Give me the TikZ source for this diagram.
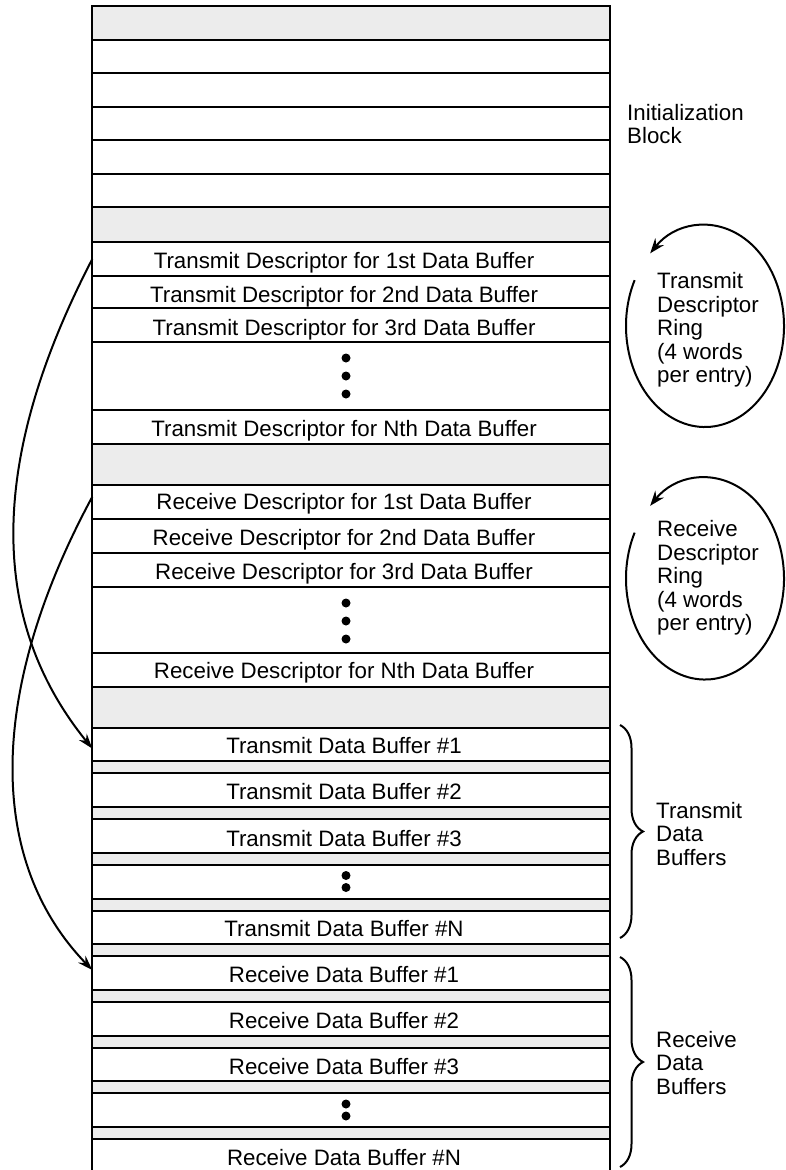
\documentclass[tikz,border=0pt]{standalone}
\usepackage{fontspec}
\setmainfont{Liberation Sans}
\usetikzlibrary{arrows.meta,decorations.pathreplacing}
\definecolor{cellgray}{RGB}{236,236,236}
\begin{document}
\begin{tikzpicture}[x=1pt,y=1pt,
  cell/.style={draw=black,line width=2pt,fill=white,minimum width=517.4pt,
    minimum height=#1,inner sep=0pt,outer sep=0pt,anchor=north west},
  gcell/.style={cell=#1,fill=cellgray},
  lbl/.style={font=\fontsize{22.3}{23.5}\selectfont,inner sep=0pt,anchor=base},
  side/.style={font=\fontsize{22.3}{23.5}\selectfont,inner sep=0pt,align=left,anchor=west},
  conn/.style={line width=2pt,-{Stealth[length=15pt,width=10pt,inset=5pt]}},
  ring/.style={line width=2pt,-{Stealth[length=15pt,width=11pt,inset=5pt]}},
  brc/.style={line width=2pt,decorate,decoration={brace,amplitude=23pt}},
  dot/.style={fill=black}]
\path[use as bounding box] (0,0) rectangle (785,-1170);
\fill[white] (0,0) rectangle (785,-1170);
\clip (0,0) rectangle (785,-1170);

% initialization block
\node[gcell=33.6pt] (i0) at (92.3,-6) {};
\node[cell=33.6pt] (i1) at (92.3,-39.6) {};
\node[cell=33.6pt] (i2) at (92.3,-73.1) {};
\node[cell=33.6pt] (i3) at (92.3,-106.7) {};
\node[cell=33.6pt] (i4) at (92.3,-140.2) {};
\node[cell=33.6pt] (i5) at (92.3,-173.8) {};
\node[gcell=34.7pt] (i6) at (92.3,-207.3) {};

% transmit descriptors
\node[cell=34pt] (td1) at (92.3,-242) {};
\node[cell=32.3pt] (td2) at (92.3,-276) {};
\node[cell=33.4pt] (td3) at (92.3,-308.3) {};
\node[cell=68.3pt] (tdd) at (92.3,-341.7) {};
\node[cell=33.5pt] (tdn) at (92.3,-410) {};
\node[gcell=41.5pt] (g2) at (92.3,-443.5) {};

% receive descriptors
\node[cell=33.5pt] (rd1) at (92.3,-485) {};
\node[cell=34.5pt] (rd2) at (92.3,-518.5) {};
\node[cell=34pt] (rd3) at (92.3,-553) {};
\node[cell=66pt] (rdd) at (92.3,-587) {};
\node[cell=34pt] (rdn) at (92.3,-653) {};
\node[gcell=40.7pt] (g3) at (92.3,-687) {};

% transmit buffers
\node[cell=33.7pt] (tb1) at (92.3,-727.7) {};
\node[gcell=12pt] (tg1) at (92.3,-761.4) {};
\node[cell=33.7pt] (tb2) at (92.3,-773.4) {};
\node[gcell=12pt] (tg2) at (92.3,-807.1) {};
\node[cell=33.7pt] (tb3) at (92.3,-819.1) {};
\node[gcell=12pt] (tg3) at (92.3,-852.8) {};
\node[cell=33.7pt] (tbd) at (92.3,-864.8) {};
\node[gcell=12pt] (tg4) at (92.3,-898.5) {};
\node[cell=33.7pt] (tbn) at (92.3,-910.5) {};
\node[gcell=12pt] (tg5) at (92.3,-944.2) {};

% receive buffers
\node[cell=33.7pt] (rb1) at (92.3,-956.2) {};
\node[gcell=12pt] (rg1) at (92.3,-989.9) {};
\node[cell=33.7pt] (rb2) at (92.3,-1001.9) {};
\node[gcell=12pt] (rg2) at (92.3,-1035.6) {};
\node[cell=33.7pt] (rb3) at (92.3,-1047.6) {};
\node[gcell=12pt] (rg3) at (92.3,-1081.3) {};
\node[cell=33.7pt] (rbd) at (92.3,-1093.3) {};
\node[gcell=12pt] (rg4) at (92.3,-1127) {};
\node[cell=40pt] (rbn) at (92.3,-1139) {};

% row texts
\node[lbl] (ttd1) at (344,-268) {Transmit Descriptor for 1st Data Buffer};
\node[lbl] (ttd2) at (344,-302) {Transmit Descriptor for 2nd Data Buffer};
\node[lbl] (ttd3) at (344,-335) {Transmit Descriptor for 3rd Data Buffer};
\node[lbl] (ttdn) at (344,-436.5) {Transmit Descriptor for Nth Data Buffer};
\node[lbl] (trd1) at (344,-509.5) {Receive Descriptor for 1st Data Buffer};
\node[lbl] (trd2) at (344,-545) {Receive Descriptor for 2nd Data Buffer};
\node[lbl] (trd3) at (344,-579.5) {Receive Descriptor for 3rd Data Buffer};
\node[lbl] (trdn) at (344,-678) {Receive Descriptor for Nth Data Buffer};
\node[lbl] (ttb1) at (344,-753.3) {Transmit Data Buffer \#1};
\node[lbl] (ttb2) at (344,-799.5) {Transmit Data Buffer \#2};
\node[lbl] (ttb3) at (344,-846.5) {Transmit Data Buffer \#3};
\node[lbl] (ttbn) at (344,-936.6) {Transmit Data Buffer \#N};
\node[lbl] (trb1) at (344,-982.8) {Receive Data Buffer \#1};
\node[lbl] (trb2) at (344,-1028.5) {Receive Data Buffer \#2};
\node[lbl] (trb3) at (344,-1074.2) {Receive Data Buffer \#3};
\node[lbl] (trbn) at (344,-1165.6) {Receive Data Buffer \#N};

% ellipsis dots
\fill[dot] (346,-358) circle (4.5);
\fill[dot] (346,-376) circle (4.5);
\fill[dot] (346,-394) circle (4.5);
\fill[dot] (346,-603) circle (4.5);
\fill[dot] (346,-621) circle (4.5);
\fill[dot] (346,-639) circle (4.5);
\fill[dot] (346,-875.5) circle (4.5);
\fill[dot] (346,-887.5) circle (4.5);
\fill[dot] (346,-1104) circle (4.5);
\fill[dot] (346,-1116) circle (4.5);

% side labels
\node[side] (linit) at (627,-124) {Initialization\\Block};
\node[side] (ltr) at (657,-330) {Transmit\\Descriptor\\Ring\\(4 words\\per entry)};
\node[side] (lrr) at (657,-578) {Receive\\Descriptor\\Ring\\(4 words\\per entry)};
\node[side] (ltb) at (656,-834) {Transmit\\Data\\Buffers};
\node[side] (lrb) at (656,-1063) {Receive\\Data\\Buffers};

% rings
\draw[ring] (705,-326) ++(153:79 and 101) arc[start angle=153,end angle=494,x radius=79,y radius=101];
\draw[ring] (705,-578.5) ++(153:79 and 101) arc[start angle=153,end angle=494,x radius=79,y radius=101];

% braces
\coordinate (bt1) at (620,-725);
\coordinate (bt2) at (620,-938);
\coordinate (br1) at (620,-957);
\coordinate (br2) at (620,-1167);
\draw[brc] (bt1) -- (bt2);
\draw[brc] (br1) -- (br2);

% connectors
\coordinate (s1) at (td1.west);
\coordinate (e1) at ([yshift=-4pt]tb1.west);
\coordinate (s2) at ([yshift=5pt]rd1.west);
\coordinate (e2) at ([yshift=3pt]rb1.west);
\draw[conn] (s1) .. controls (-12,-460) and (-12,-620) .. (e1);
\draw[conn] (s2) .. controls (-12,-690) and (-14,-860) .. (e2);
\end{tikzpicture}
\end{document}
